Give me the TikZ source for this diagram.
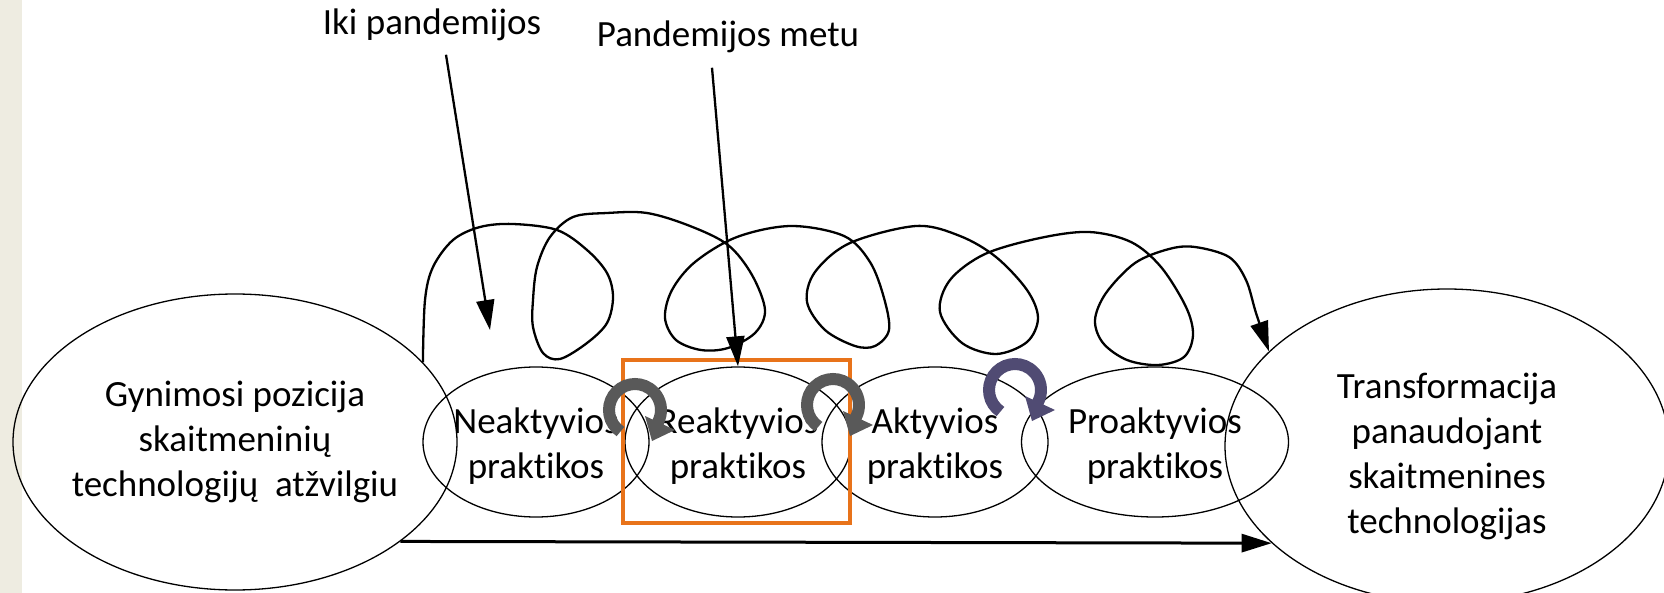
\documentclass[tikz,border=0pt]{standalone}
\usepackage{fontspec}
\setmainfont{Carlito}[Ligatures=NoCommon]
\usetikzlibrary{arrows.meta, positioning, shapes.geometric, calc}
\definecolor{cgrey}{HTML}{595959}
\definecolor{cviolet}{HTML}{504B73}
\definecolor{corange}{HTML}{E8731A}
\definecolor{cbeige}{HTML}{EEECE1}
\tikzset{
  every picture/.style={font=\fontsize{18.5pt}{22.5pt}\selectfont},
  oval/.style={ellipse, draw, line width=0.65pt, inner sep=0pt, minimum width=#1, minimum height=75pt},
  oval/.default=113pt,
  bigoval/.style={oval=222pt, minimum height=#1},
  bigoval/.default=148pt,
  lbl/.style={align=center, inner sep=0pt},
  arrow/.style={-{Triangle[length=15pt, width=9pt]}, line width=1.15pt},
  pics/turn/.style={code={
    \draw[draw=#1, line width=6pt] (-236:26) arc[start angle=-236, end angle=35, radius=26];
    \fill[#1] (10,6) -- (40,20) -- (17,31) -- cycle;
  }},
}

\begin{document}
\begin{tikzpicture}[x=0.5pt, y=-0.5pt]
  \useasboundingbox (0,0) rectangle (1664,593);
  \fill[cbeige] (0,0) rectangle (22,593);
  % ---------- stages ----------
  \node[bigoval, label={[lbl]center:Gynimosi pozicija\\skaitmeninių\\technologijų\ \ atžvilgiu}] (gyn) at (235,442) {};
  \node[oval, label={[lbl, yshift=-2pt]center:Neaktyvios\\praktikos}] (neak) at (536,442) {};
  \node[oval, label={[lbl, yshift=-2pt]center:Reaktyvios\\praktikos}] (reak) at (738,442) {};
  \node[oval, label={[lbl, yshift=-2pt]center:Aktyvios\\praktikos}] (akt) at (935,442) {};
  \node[oval=133.5pt, label={[lbl, yshift=-2pt]center:Proaktyvios\\praktikos}] (proakt) at (1155,442) {};
  \node[bigoval=157pt, label={[lbl, yshift=-5pt]center:Transformacija\\panaudojant\\skaitmenines\\technologijas}] (trans) at (1447,446) {};
  \draw[corange, line width=2pt] (623,360) rectangle (850,523);
  % ---------- time labels ----------
  \node[lbl, anchor=base] (iki) at (432,35) {Iki pandemijos};
  \node[lbl, anchor=base] (pand) at (728,47) {Pandemijos metu};
  \coordinate (iki-tip) at (490,330);
  \draw[arrow] ([shift={(14,13)}]iki.south) -- (iki-tip);
  \draw[arrow] ([shift={(-16,14)}]pand.south) -- (reak.north);
  % ---------- path of change ----------
  \draw[arrow] plot[smooth, tension=0.55] coordinates {(gyn.23)
    (425,300) (433,267) (453,240) (480,227) (513,224) (557,230) (587,250) (607,273) (613,297)
    (607,323) (587,343) (560,359) (543,353) (533,327) (533,300) (537,267) (550,237) (573,217)
    (607,213) (647,213) (690,226) (728,245) (752,275) (765,310) (755,333) (728,348) (701,350)
    (676,340) (665,318) (672,290) (695,262) (737,237) (791,226) (844,236) (870,262) (884,298)
    (889,330) (875,346) (855,346) (825,330) (807,302) (815,272) (850,243) (916,226) (960,236)
    (996,257) (1027,290) (1038,318) (1027,342) (996,354) (962,343) (940,312) (950,280) (985,254)
    (1040,238) (1089,232) (1131,242) (1161,267) (1186,307) (1193,335) (1184,357) (1158,365)
    (1127,360) (1103,343) (1095,320) (1106,293) (1135,263) (1169,249) (1195,247) (1229,257)
    (1246,280) (1256,313) (trans.152)};
  \draw[arrow, line width=1.5pt] (gyn.-31) -- (trans.-151.5);
  % ---------- turns ----------
  \pic at (635,410) {turn=cgrey};
  \pic at (833,405) {turn=cgrey};
  \pic at (1015,390) {turn=cviolet};
\end{tikzpicture}
\end{document}
